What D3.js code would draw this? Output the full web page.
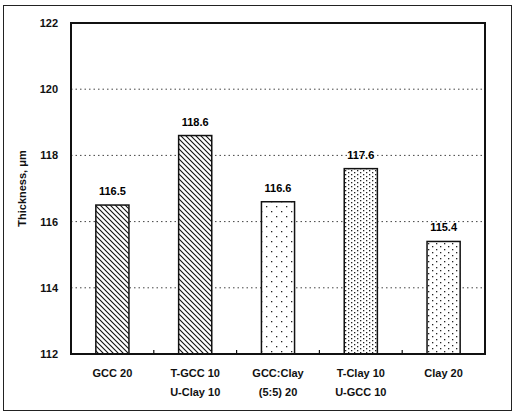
<!DOCTYPE html>
<html>
<head>
<meta charset="utf-8">
<script src="https://cdn.jsdelivr.net/npm/d3@7"></script>
<style>
  html, body { margin: 0; padding: 0; background: #fff; }
  svg { display: block; font-family: Arial, "Liberation Sans", sans-serif; }
</style>
</head>
<body>
<svg id="chart" width="514" height="415"></svg>
<script>
// Film thickness by filler composition
const categories = ["GCC 20", "T-GCC 10\nU-Clay 10", "GCC:Clay\n(5:5) 20", "T-Clay 10\nU-GCC 10", "Clay 20"];
const thickness = [116.5, 118.6, 116.6, 117.6, 115.4];
const fills = ["hatch", "hatch", "dotsSparse", "dotsDense", "dotsMedium"];
const yTicks = [112, 114, 116, 118, 120, 122];

const svg = d3.select("#chart");
const margin = { left: 71, top: 23, right: 29, bottom: 61 };
const W = 514, H = 415;

// outer frame
svg.append("rect").attr("x", 3.5).attr("y", 5.5).attr("width", 508).attr("height", 405)
  .attr("fill", "none").attr("stroke", "#222").attr("stroke-width", 1);

const defs = svg.append("defs");
// diagonal hatch
const ph = defs.append("pattern").attr("id", "hatch").attr("patternUnits", "userSpaceOnUse")
  .attr("width", 5).attr("height", 5);
ph.append("rect").attr("width", 5).attr("height", 5).attr("fill", "#fff");
ph.append("path").attr("d", "M-1,-1 L6,6 M-1,4 L1,6 M4,-1 L6,1").attr("stroke", "#111").attr("stroke-width", 1.1);

function dotPattern(id, w, h, pts) {
  const p = defs.append("pattern").attr("id", id).attr("patternUnits", "userSpaceOnUse")
    .attr("width", w).attr("height", h);
  p.append("rect").attr("width", w).attr("height", h).attr("fill", "#fff");
  pts.forEach(([px, py]) => p.append("rect").attr("x", px).attr("y", py).attr("width", 1.3).attr("height", 1.3).attr("fill", "#222"));
}
dotPattern("dotsSparse", 10, 10, [[1, 1], [6, 6]]);
dotPattern("dotsDense", 6, 4, [[0, 0], [3, 2]]);
dotPattern("dotsMedium", 8, 6, [[0, 0], [4, 3]]);

const x = d3.scaleBand().domain(categories).range([margin.left, W - margin.right]).paddingInner(0.6).paddingOuter(0.3);
const y = d3.scaleLinear().domain([112, 122]).range([H - margin.bottom, margin.top]);

const pLeft = margin.left, pRight = W - margin.right, pTop = margin.top, pBottom = H - margin.bottom;

// dotted gridlines
svg.append("g").selectAll("line").data(yTicks.filter(t => t > 112 && t < 122)).join("line")
  .attr("x1", pLeft).attr("x2", pRight).attr("y1", d => y(d)).attr("y2", d => y(d))
  .attr("stroke", "#444").attr("stroke-width", 1).attr("stroke-dasharray", "1.5,3");

// bars
svg.append("g").selectAll("rect").data(categories).join("rect")
  .attr("x", d => x(d)).attr("width", x.bandwidth())
  .attr("y", (d, i) => y(thickness[i])).attr("height", (d, i) => y(112) - y(thickness[i]))
  .attr("fill", (d, i) => `url(#${fills[i]})`).attr("stroke", "#111").attr("stroke-width", 1.5);

// value labels
svg.append("g").selectAll("text").data(categories).join("text")
  .attr("x", d => x(d) + x.bandwidth() / 2).attr("y", (d, i) => y(thickness[i]) - 10)
  .attr("text-anchor", "middle").attr("font-size", 11).attr("font-weight", "bold")
  .text((d, i) => thickness[i].toFixed(1));

// plot frame
svg.append("rect").attr("x", pLeft).attr("y", pTop).attr("width", pRight - pLeft).attr("height", pBottom - pTop)
  .attr("fill", "none").attr("stroke", "#111").attr("stroke-width", 2);

// y axis
const yAxis = d3.axisLeft(y).tickValues(yTicks).tickSize(0).tickPadding(13).tickFormat(d3.format("d"));
const gy = svg.append("g").attr("transform", `translate(${pLeft},0)`).call(yAxis);
gy.select(".domain").remove();
gy.selectAll("text").attr("font-size", 11).attr("font-weight", "bold").attr("fill", "#111")
  .attr("font-family", "Arial, 'Liberation Sans', sans-serif");

// x axis with inner ticks at category boundaries
const boundaries = categories.slice(1).map(c => x(c) - x.step() * x.paddingInner() / 2);
svg.append("g").selectAll("line").data(boundaries).join("line")
  .attr("x1", d => d).attr("x2", d => d).attr("y1", pBottom).attr("y2", pBottom - 4)
  .attr("stroke", "#111").attr("stroke-width", 1.2);

const xl = svg.append("g");
categories.forEach(c => {
  const lines = c.split("\n");
  const t = xl.append("text").attr("x", x(c) + x.bandwidth() / 2).attr("y", pBottom + 23)
    .attr("text-anchor", "middle").attr("font-size", 11).attr("font-weight", "bold").attr("fill", "#111");
  lines.forEach((ln, i) => t.append("tspan").attr("x", x(c) + x.bandwidth() / 2).attr("dy", i === 0 ? 0 : 19).text(ln));
});

// y axis title
svg.append("text").attr("transform", `translate(26,${(pTop + pBottom) / 2}) rotate(-90)`)
  .attr("text-anchor", "middle").attr("font-size", 11).attr("font-weight", "bold").attr("fill", "#111")
  .text("Thickness, μm");
</script>
</body>
</html>
